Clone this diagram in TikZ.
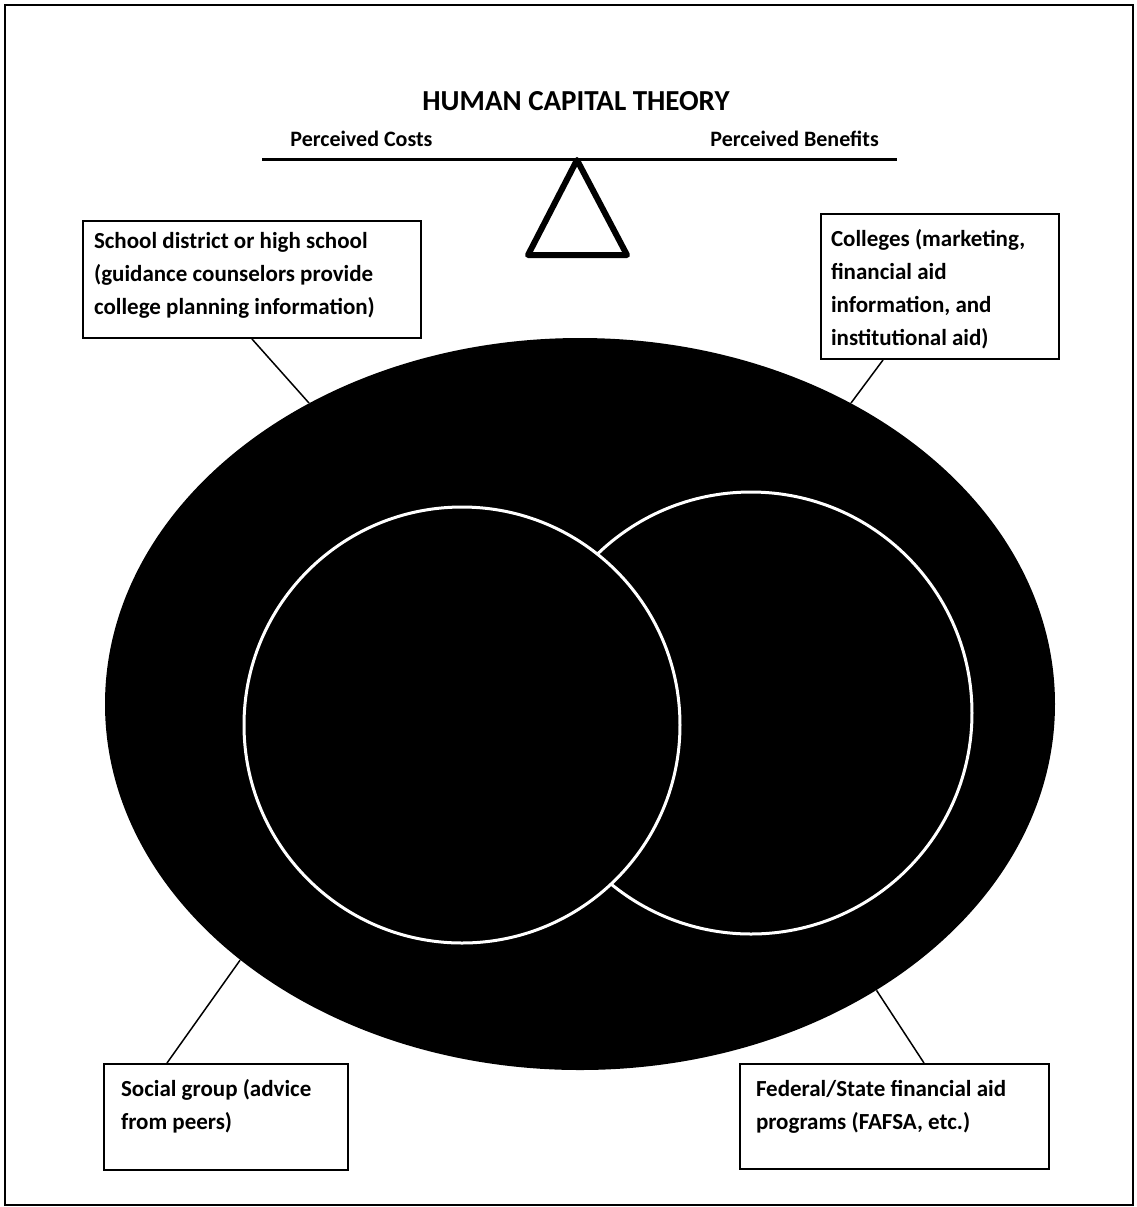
\documentclass[tikz,border=0pt]{standalone}
\usepackage{fontspec}
\setmainfont{Carlito}
\usetikzlibrary{shapes.geometric,calc}

% body of a labelled panel: width, height, gap above first line, lines
\newcommand\paneltext[4]{%
  \begin{minipage}[t][#2][t]{#1}\raggedright
  \fontsize{11.5}{16.5}\selectfont\bfseries
  \vspace*{#3}\strut#4\end{minipage}}

\begin{document}
\begin{tikzpicture}[x=0.5pt,y=-0.5pt,
  frame/.style={draw=black, line width=1.25pt},
  heading/.style={inner sep=0pt, font=\fontsize{14.5}{17}\selectfont\bfseries},
  sidelabel/.style={inner sep=0pt, font=\fontsize{11}{13}\selectfont\bfseries, anchor=base west},
  beam/.style={draw=black, line width=1.5pt},
  fulcrum/.style={draw=black, line width=3pt, line join=round},
  ring/.style={ellipse, fill=black, inner sep=0pt},
  disc/.style={circle, fill=black, draw=white, line width=1.5pt, inner sep=0pt},
  infobox/.style={draw=black, line width=1pt, fill=white, inner ysep=0pt, inner xsep=#1, anchor=north west},
  link/.style={draw=black, line width=0.75pt}]

\useasboundingbox (0,0) rectangle (1137,1207);
\draw[frame] (5,5) rectangle (1133,1205);

% title and balance
\node[heading, anchor=base] (title) at (576,110) {HUMAN CAPITAL THEORY};
\node[sidelabel] (costs) at (290,146) {Perceived Costs};
\node[sidelabel] (benefits) at (710,146) {Perceived Benefits};
\coordinate (beamL) at (262,159);
\coordinate (beamR) at (897,159);
\draw[beam] (beamL) -- (beamR);
\coordinate (pivot) at (577,160);
\coordinate (baseL) at (528,255);
\coordinate (baseR) at (627,255);
\draw[fulcrum] (pivot) -- (baseL) -- (baseR) -- cycle;

% influences and the two overlapping circles
\node[ring, minimum width=475pt, minimum height=366pt] (ring) at (580,704) {};
\node[disc, minimum size=221pt] (rightdisc) at (751,713) {};
\node[disc, minimum size=218pt] (leftdisc) at (462,725) {};

% information sources
\node[infobox=5.5pt] (school) at (82,220)
  {\paneltext{158pt}{58.5pt}{2pt}{School district or high school\\(guidance counselors provide\\college planning information)}};
\node[infobox=5pt] (colleges) at (820,213)
  {\paneltext{109pt}{72.5pt}{4.45pt}{Colleges (marketing,\\financial aid\\information, and\\institutional aid)}};
\node[infobox=8.5pt] (social) at (103,1063)
  {\paneltext{105pt}{53pt}{4.45pt}{Social group (advice\\from peers)}};
\node[infobox=8pt] (federal) at (739,1063)
  {\paneltext{138.5pt}{52.5pt}{4.45pt}{Federal/State financial aid\\programs (FAFSA, etc.)}};

% connectors
\draw[link] (school.south) -- (ring.132);
\draw[link] ($(colleges.south west)+(63,0)$) -- (ring.48);
\draw[link] ($(social.north west)+(64,0)$) -- (ring.217);
\draw[link] ($(federal.north west)+(185,0)$) -- (ring.316);
\end{tikzpicture}
\end{document}
